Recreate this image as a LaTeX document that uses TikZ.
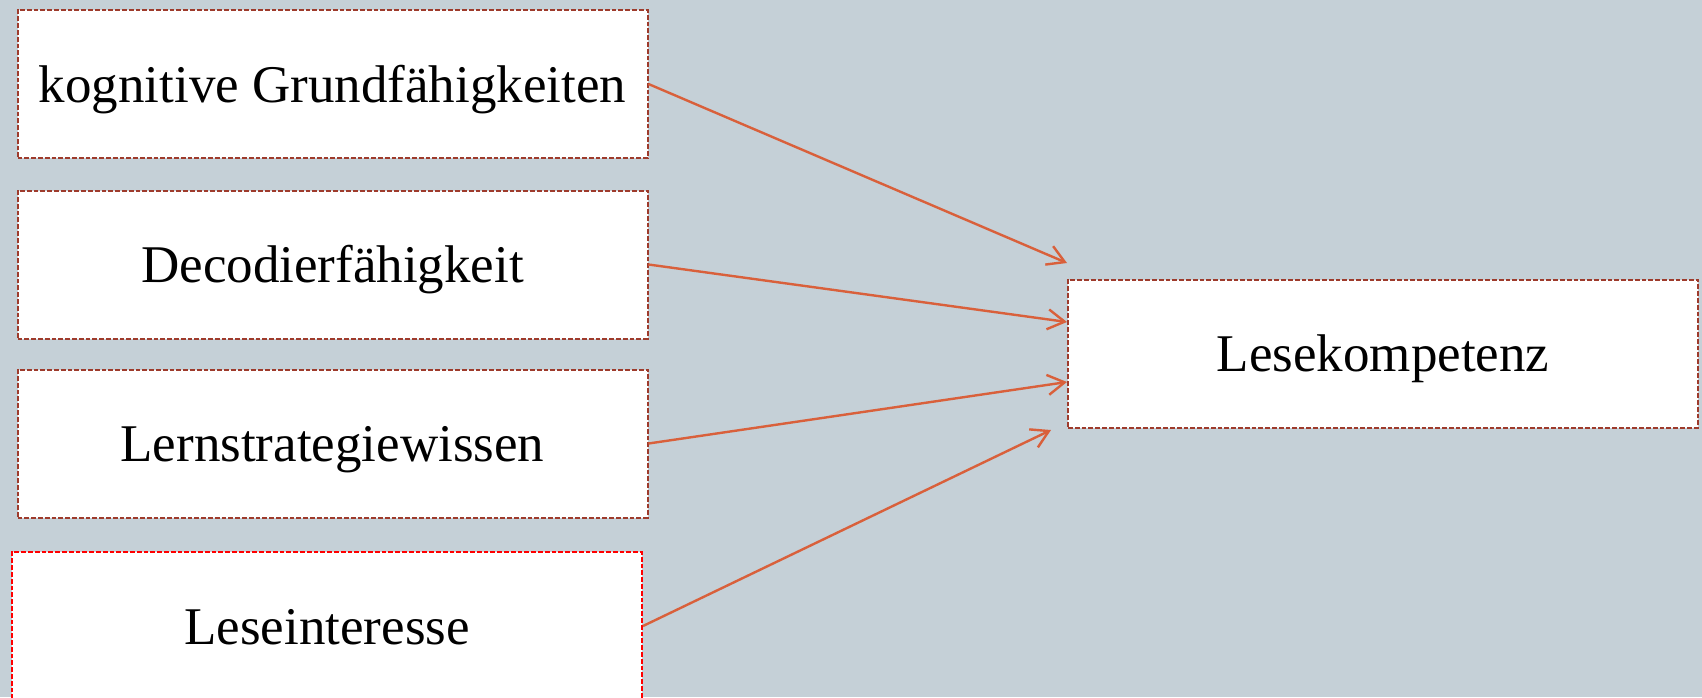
\documentclass[tikz,border=0pt]{standalone}
\usepackage{fontspec}
\setmainfont{Liberation Serif}
\usetikzlibrary{arrows.meta}
\definecolor{bgc}{HTML}{C5D0D7}
\definecolor{boxline}{HTML}{9E3B2C}
\definecolor{arr}{HTML}{D9603B}
\begin{document}
\begin{tikzpicture}[x=0.5pt,y=-0.5pt,
  box/.style={draw=boxline,fill=white,line width=1pt,dash pattern=on 2.4pt off 1pt,
    minimum width=315pt,minimum height=74pt,inner sep=0pt,
    text height=24pt,text depth=6pt,
    font=\fontsize{26.5}{30}\selectfont},
  redbox/.style={box,draw=red},
  link/.style={draw=arr,line width=1.2pt,-{Straight Barb[length=8.5pt,width=10pt,line width=1.2pt]}}]
\useasboundingbox (0,0) rectangle (1702,697);
\fill[bgc] (0,0) rectangle (1702,697);
\begin{scope}
\clip (0,0) rectangle (1702,697);
\node[box] (kg) at (332.5,84) {kognitive Grundfähigkeiten};
\node[box] (dc) at (332.5,264.5) {Decodierfähigkeit};
\node[box] (ls) at (332.5,443.5) {Lernstrategiewissen};
\node[redbox] (li) at (327,626) {Leseinteresse};
\node[box] (lk) at (1383,353.5) {Lesekompetenz};
\coordinate (e1) at (1067,263);
\coordinate (e2) at (1067,322);
\coordinate (e3) at (1067,382);
\coordinate (e4) at (1051,430);
\draw[link] (kg.east) -- (e1);
\draw[link] (dc.east) -- (e2);
\draw[link] (ls.east) -- (e3);
\draw[link] (li.east) -- (e4);
\end{scope}
\end{tikzpicture}
\end{document}
